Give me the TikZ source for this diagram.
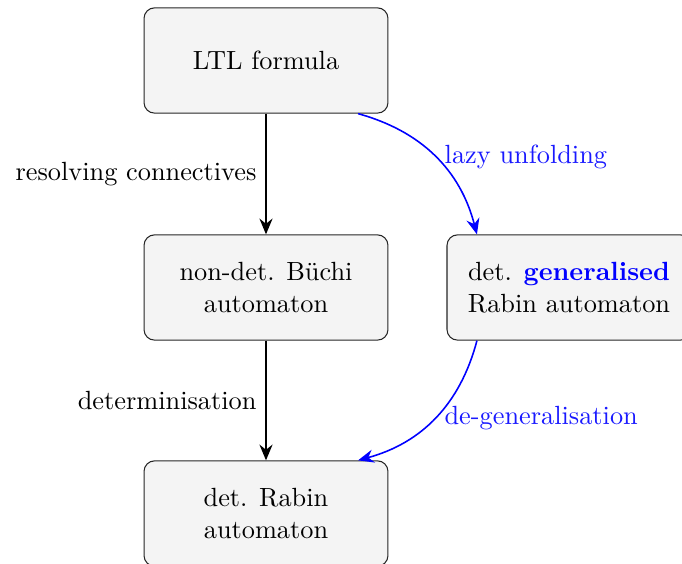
\documentclass[tikz,border=0pt]{standalone}
\usetikzlibrary{arrows.meta}
\begin{document}
\begin{tikzpicture}[x=0.38pt,y=-0.38pt,
  stage/.style={draw=black!85,fill=black!4.5,rounded corners=4pt,
    minimum width=92.7pt,minimum height=40pt,align=center,inner sep=3pt},
  flow/.style={semithick,-{Stealth[length=6pt,width=5pt,inset=2pt]}},
  lazyflow/.style={flow,blue},
  lbl/.style={text=blue!90}]
  \useasboundingbox (0,0) rectangle (682,564);
  \node[stage] (ltl) at (266,60.5) {LTL formula};
  \node[stage] (nba) at (266,287.5) {non-det. B\"uchi\\automaton};
  \node[stage] (dra) at (266,513.5) {det. Rabin\\automaton};
  \node[stage] (dgra) at (569,287.5) {det. \textcolor{blue}{\textbf{generalised}}\\Rabin automaton};
  \draw[flow] (ltl) -- node[left] {resolving connectives} (nba);
  \draw[flow] (nba) -- node[left] {determinisation} (dra);
  \draw[lazyflow] (ltl.-30) to[bend left=30] node[right,lbl] {lazy unfolding} (dgra.150);
  \draw[lazyflow] (dgra.210) to[bend left=30] node[right,lbl] {de-generalisation} (dra.30);
\end{tikzpicture}
\end{document}
